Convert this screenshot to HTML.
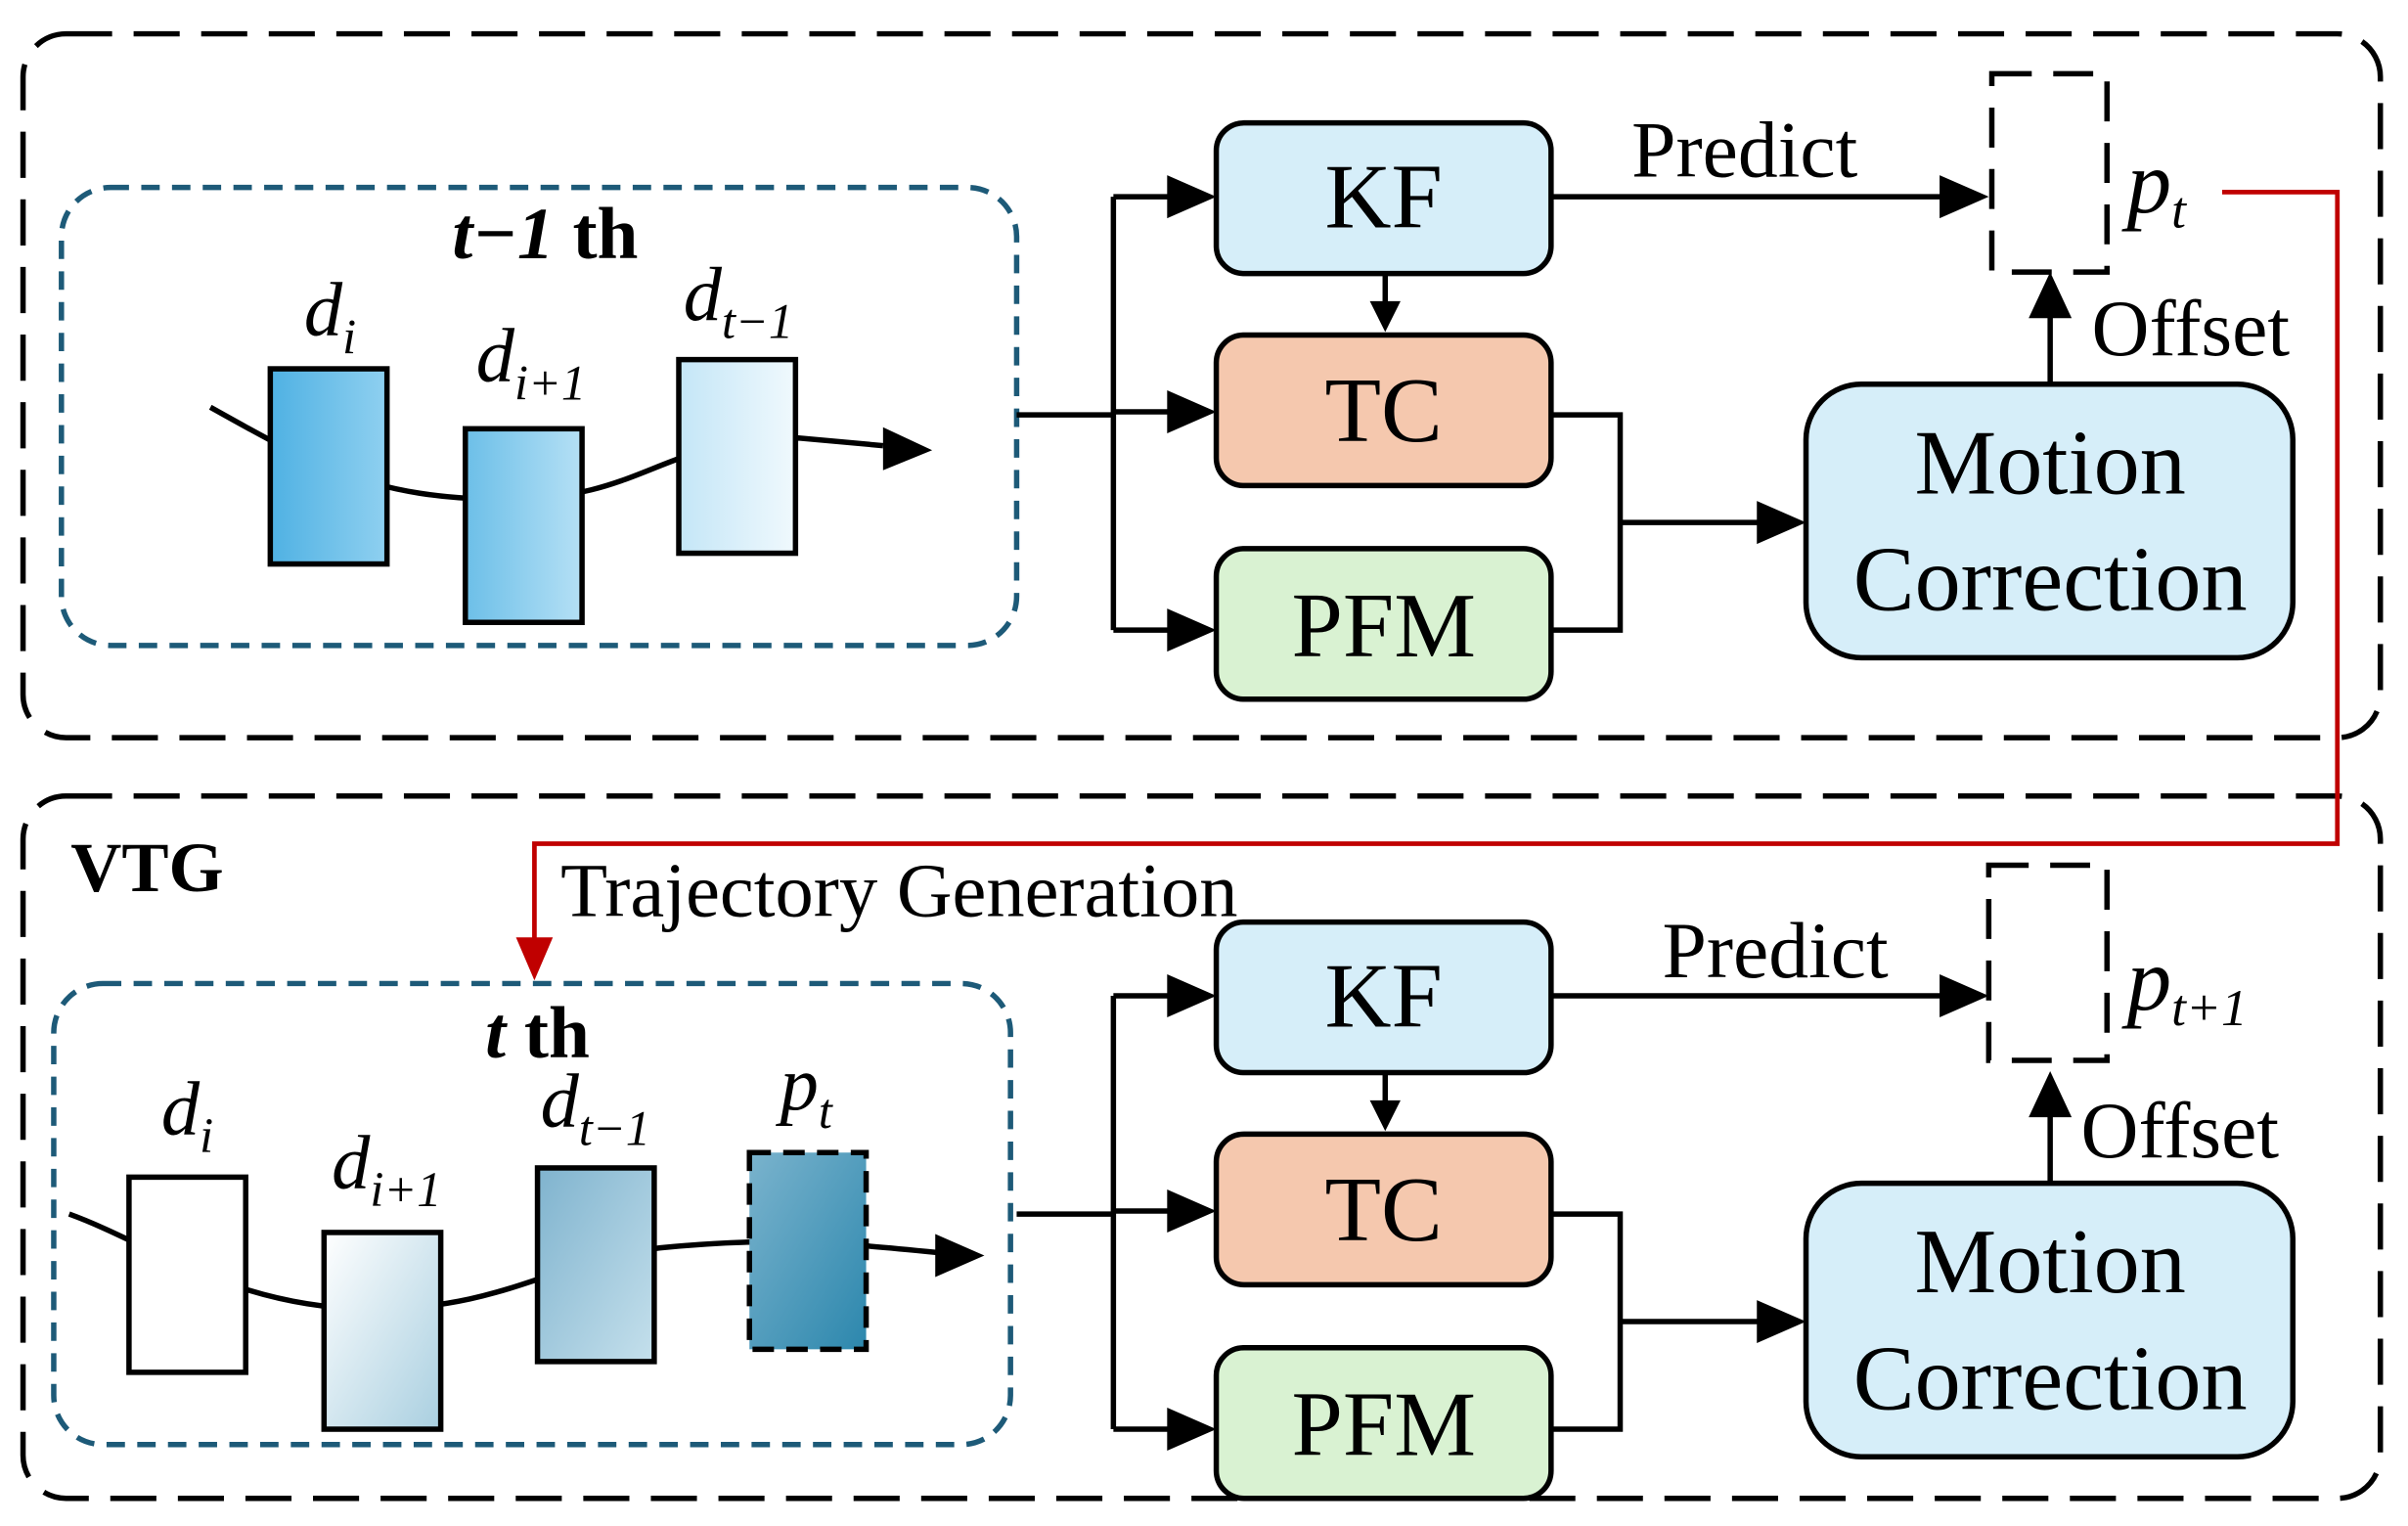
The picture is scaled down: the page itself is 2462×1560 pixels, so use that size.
<!DOCTYPE html>
<html><head><meta charset="utf-8"><style>
html,body{margin:0;padding:0;background:#fff;}
svg{display:block;}
text{font-family:"Liberation Serif","Times New Roman",serif;}
</style></head><body>
<svg width="2462" height="1560" viewBox="0 0 1568 993" preserveAspectRatio="none" xmlns="http://www.w3.org/2000/svg">
<defs>
<linearGradient id="g1" x1="0" y1="0" x2="1" y2="0"><stop offset="0" stop-color="#4fb1e3"/><stop offset="1" stop-color="#8fd0f0"/></linearGradient>
<linearGradient id="g2" x1="0" y1="0" x2="1" y2="0"><stop offset="0" stop-color="#6cbfe8"/><stop offset="1" stop-color="#b5e0f5"/></linearGradient>
<linearGradient id="g3" x1="0" y1="0" x2="1" y2="0"><stop offset="0" stop-color="#c4e6f7"/><stop offset="1" stop-color="#f0f9fd"/></linearGradient>
<linearGradient id="g4" x1="0" y1="0" x2="1" y2="1"><stop offset="0" stop-color="#ffffff"/><stop offset="1" stop-color="#a9cfe0"/></linearGradient>
<linearGradient id="g5" x1="0" y1="0" x2="1" y2="1"><stop offset="0" stop-color="#7fb3ce"/><stop offset="1" stop-color="#c5e0ec"/></linearGradient>
<linearGradient id="g6" x1="0" y1="0" x2="1" y2="1"><stop offset="0" stop-color="#7ab3cd"/><stop offset="1" stop-color="#2c87ad"/></linearGradient>
</defs>
<g fill="none" stroke="#000" stroke-width="3.5" stroke-dasharray="30,14">
<rect x="15" y="22" width="1535" height="458" rx="28"/>
<rect x="15" y="518" width="1535" height="457" rx="28"/>
</g>
<g fill="none" stroke="#1d5a78" stroke-width="3.5" stroke-dasharray="12,8">
<rect x="40" y="122" width="622" height="298" rx="32"/>
<rect x="35" y="640" width="623" height="300" rx="32"/>
</g>
<path d="M137,265 C200,300 240,325 330,325 C420,325 430,285 520,285 L575,290" fill="none" stroke="#000" stroke-width="3.5"/>
<polygon points="607,293 575,278 575,306" fill="#000"/>
<rect x="176" y="240" width="76" height="127" fill="url(#g1)" stroke="#000" stroke-width="3.5"/>
<rect x="303" y="279" width="76" height="126" fill="url(#g2)" stroke="#000" stroke-width="3.5"/>
<rect x="442" y="234" width="76" height="126" fill="url(#g3)" stroke="#000" stroke-width="3.5"/>
<text x="355" y="168" font-size="48" font-weight="bold" font-style="italic" text-anchor="middle">t−1 <tspan font-style="normal">th</tspan></text>
<g font-style="italic">
<text x="198" y="218" font-size="50">d<tspan font-size="32" dy="12">i</tspan></text>
<text x="310" y="248" font-size="50">d<tspan font-size="32" dy="12">i+1</tspan></text>
<text x="445" y="208" font-size="50">d<tspan font-size="32" dy="12">t−1</tspan></text>
<text x="105" y="738" font-size="50">d<tspan font-size="32" dy="12">i</tspan></text>
<text x="216" y="773" font-size="50">d<tspan font-size="32" dy="12">i+1</tspan></text>
<text x="352" y="733" font-size="50">d<tspan font-size="32" dy="12">t−1</tspan></text>
<text x="508" y="722" font-size="50">p<tspan font-size="32" dy="12">t</tspan></text>
</g>
<path d="M45,790 C100,810 150,850 240,852 C330,852 360,820 430,812 C500,805 540,808 610,815" fill="none" stroke="#000" stroke-width="3.5"/>
<polygon points="641,817 609,803 609,831" fill="#000"/>
<rect x="84" y="766" width="76" height="127" fill="#fff" stroke="#000" stroke-width="3.5"/>
<rect x="211" y="802" width="76" height="128" fill="url(#g4)" stroke="#000" stroke-width="3.5"/>
<rect x="350" y="760" width="76" height="126" fill="url(#g5)" stroke="#000" stroke-width="3.5"/>
<rect x="488" y="750" width="76" height="128" fill="url(#g6)" stroke="#000" stroke-width="3.5" stroke-dasharray="14,8"/>
<text x="350" y="688" font-size="48" font-weight="bold" font-style="italic" text-anchor="middle">t <tspan font-style="normal">th</tspan></text>
<text x="46" y="580" font-size="46" font-weight="bold">VTG</text>
<text x="365" y="596" font-size="50">Trajectory Generation</text>

<g id="pipe">
<g stroke="#000" stroke-width="3.5" fill="none">
<path d="M662,270 H725 M725,128 V410 M725,128 H762 M725,268 H762 M725,410 H762"/>
<path d="M902,178 V200"/>
<path d="M1010,128 H1265"/>
<path d="M1010,270 H1055 V410 H1010 M1055,340 H1148"/>
<path d="M1335,250 V205"/>
</g>
<g fill="#000">
<polygon points="792,128 760,114 760,142"/>
<polygon points="792,268 760,254 760,282"/>
<polygon points="792,410 760,396 760,424"/>
<polygon points="902,216 892,196 912,196"/>
<polygon points="1295,128 1263,114 1263,142"/>
<polygon points="1176,340 1144,326 1144,354"/>
<polygon points="1335,177 1321,207 1349,207"/>
</g>
<rect x="792" y="80" width="218" height="98" rx="18" fill="#d6eef9" stroke="#000" stroke-width="3.5"/>
<rect x="792" y="218" width="218" height="98" rx="18" fill="#f5c8ae" stroke="#000" stroke-width="3.5"/>
<rect x="792" y="357" width="218" height="98" rx="18" fill="#d9f2d2" stroke="#000" stroke-width="3.5"/>
<rect x="1176" y="250" width="317" height="178" rx="36" fill="#d6eef9" stroke="#000" stroke-width="3.5"/>
<text x="901" y="148" font-size="60" text-anchor="middle">KF</text>
<text x="901" y="287" font-size="60" text-anchor="middle">TC</text>
<text x="901" y="427" font-size="60" text-anchor="middle">PFM</text>
<text x="1335" y="321" font-size="60" text-anchor="middle">Motion</text>
<text x="1335" y="397" font-size="60" text-anchor="middle">Correction</text>
</g>
<rect x="1297" y="48" width="75" height="129" fill="none" stroke="#000" stroke-width="3.5" stroke-dasharray="26,14"/>
<text x="1136" y="115" font-size="52" text-anchor="middle">Predict</text>
<text x="1385" y="138" font-size="58" font-style="italic">p<tspan font-size="34" dy="10">t</tspan></text>
<text x="1362" y="231" font-size="52">Offset</text>

<use href="#pipe" transform="translate(0,520)"/>
<rect x="1295" y="563" width="77" height="127" fill="none" stroke="#000" stroke-width="3.5" stroke-dasharray="26,14"/>
<text x="1156" y="636" font-size="52" text-anchor="middle">Predict</text>
<text x="1385" y="657" font-size="58" font-style="italic">p<tspan font-size="34" dy="10">t+1</tspan></text>
<text x="1355" y="753" font-size="52">Offset</text>

<path d="M1447,125 H1522 V549 H348 V612" fill="none" stroke="#c00000" stroke-width="3"/>
<polygon points="348,638 336,610 360,610" fill="#c00000"/>
</svg>
</body></html>
